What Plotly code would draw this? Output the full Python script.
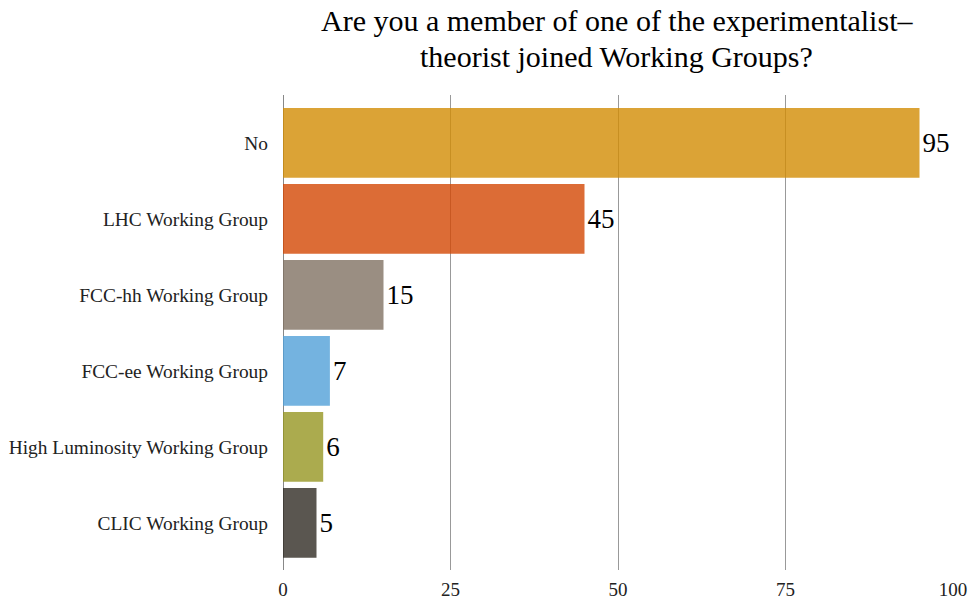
import plotly.graph_objects as go

# survey answers, top to bottom in the chart
groups = ['No', 'LHC Working Group', 'FCC-hh Working Group', 'FCC-ee Working Group',
          'High Luminosity Working Group', 'CLIC Working Group']
counts = [95, 45, 15, 7, 6, 5]
# base colours, drawn at 0.8 opacity so the grid shows through like the original
colors = ['#D28C04', '#D34704', '#817263', '#51A0D8', '#969622', '#312C24']
x_ticks = [0, 25, 50, 75, 100]
title_lines = ['Are you a member of one of the experimentalist–',
               'theorist joined Working Groups?']

# plotly draws the first category at the bottom, so flip
y_vals = groups[::-1]
x_vals = counts[::-1]
bar_colors = colors[::-1]

serif = 'Times New Roman, Liberation Serif, serif'

fig = go.Figure()
fig.add_trace(go.Bar(
    x=x_vals,
    y=y_vals,
    orientation='h',
    marker=dict(color=bar_colors, line_width=0, opacity=0.8),
    text=[str(v) for v in x_vals],
    textposition='outside',
    textfont=dict(family=serif, size=27, color='black'),
    cliponaxis=False,
))

# title as two annotations so the line spacing can match the original
for line, ypos in zip(title_lines, [1.157, 1.081]):
    fig.add_annotation(
        text=line, xref='paper', yref='paper',
        x=0.498, y=ypos, xanchor='center', yanchor='middle',
        showarrow=False,
        font=dict(family=serif, size=30, color='black'),
    )

fig.update_layout(
    width=971,
    height=603,
    margin=dict(l=283, r=18, t=95, b=33),
    paper_bgcolor='white',
    plot_bgcolor='white',
    font=dict(family=serif, size=19, color='#222222'),
    bargap=0.08,
    showlegend=False,
)

fig.update_xaxes(
    range=[0, 100],
    tickvals=x_ticks,
    showgrid=True,
    gridcolor='#999999',
    gridwidth=1,
    zeroline=True,
    zerolinecolor='#888888',
    zerolinewidth=1,
    ticks='',
    automargin=False,
    ticklabelstandoff=6,
    tickfont=dict(family=serif, size=19, color='#222222'),
)
fig.update_yaxes(
    range=[-0.62, 5.63],
    showgrid=False,
    ticks='',
    automargin=False,
    ticklabelstandoff=14,
    tickfont=dict(family=serif, size=19.4, color='#222222'),
)

# drop the default page margin so the figure fills the window exactly
fig.write_html("out.html",
               config={'displayModeBar': False},
               post_script="document.body.style.margin='0';"
                           "document.body.style.overflow='hidden';")
